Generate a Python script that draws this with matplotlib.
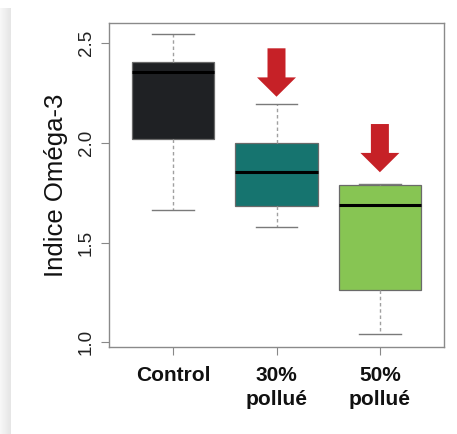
import matplotlib
matplotlib.use("Agg")
import matplotlib.pyplot as plt
import numpy as np
from matplotlib.patches import Rectangle

# ---- data ----
categories = ["Control", "30%\npollué", "50%\npollué"]
whisker_low = [1.663, 1.580, 1.040]
q1 = [2.020, 1.683, 1.264]
median = [2.358, 1.853, 1.690]
q3 = [2.405, 2.000, 1.790]
whisker_high = [2.545, 2.196, 1.795]
box_colors = ["#1f2124", "#16746f", "#87c553"]
y_ticks = [1.0, 1.5, 2.0, 2.5]
y_label = "Indice Oméga-3"
# arrows (annotations) above groups 2 and 3
arrow_groups = [2, 3]
arrow_top = [2.475, 2.095]
arrow_tip = [2.232, 1.853]

plt.rcParams['font.family'] = ['Liberation Sans', 'DejaVu Sans']

fig = plt.figure(figsize=(4.57, 4.34), dpi=100)
fig.patch.set_facecolor("white")
# left page shadow (soft gradient)
shade = np.linspace(0.97, 0.90, 11).reshape(1, -1)
sax = fig.add_axes([0, 0, 11 / 457, 426 / 434])
sax.imshow(shade, cmap="gray", vmin=0, vmax=1, aspect="auto", interpolation="bilinear")
sax.set_axis_off()

ax = fig.add_axes([109 / 457, 1 - 347 / 434, (444 - 109) / 457, (347 - 23) / 434])

stats = []
for i in range(len(categories)):
    stats.append(dict(med=median[i], q1=q1[i], q3=q3[i],
                      whislo=whisker_low[i], whishi=whisker_high[i], fliers=[]))

positions = list(range(1, len(categories) + 1))
bp = ax.bxp(stats, positions=positions, widths=0.8, patch_artist=True, showfliers=False,
            boxprops=dict(edgecolor="#6a6a6a", linewidth=0.9),
            medianprops=dict(color="black", linewidth=2.2),
            whiskerprops=dict(color="#a0a0a0", linestyle=(0, (2.5, 2)), linewidth=1.0),
            capprops=dict(color="#7a7a7a", linewidth=1.0),
            capwidths=0.4)
for patch, c in zip(bp["boxes"], box_colors):
    patch.set_facecolor(c)

for g, top, tip in zip(arrow_groups, arrow_top, arrow_tip):
    ax.arrow(g, top, 0, tip - top, width=0.174, head_width=0.377, head_length=0.097,
             length_includes_head=True, facecolor="#c62127", edgecolor="none", zorder=5)

ax.set_xlim(0.38, 3.62)
ax.set_ylim(0.976, 2.602)
ax.set_yticks(y_ticks)
ax.set_yticklabels([f"{v:.1f}" for v in y_ticks], rotation=90, va="center", fontsize=13.5)
ax.set_xticks(positions)
ax.set_xticklabels(categories, fontsize=15, fontweight="bold", linespacing=1.3)
ax.tick_params(axis="y", length=6, color="#888888", pad=4, labelcolor="#222222")
ax.tick_params(axis="x", length=6, color="#888888", pad=8, labelcolor="#111111")
for s in ax.spines.values():
    s.set_color("#8a8a8a")
    s.set_linewidth(1.0)
ax.set_ylabel(y_label, fontsize=18.5, labelpad=7, color="#111111")

fig.savefig("out.png", dpi=100)
